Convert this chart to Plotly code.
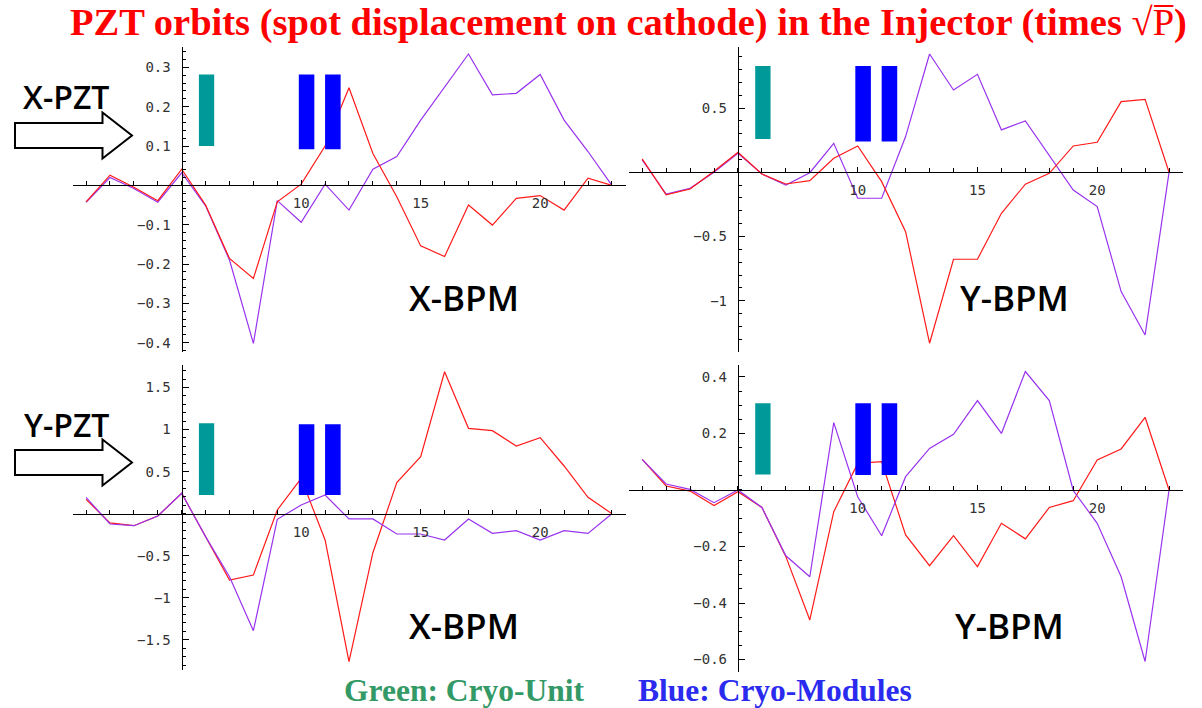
import plotly.graph_objects as go

# ---------------- data ----------------
bpm = list(range(1, 24))

tl_red = [-0.042, 0.026, -0.005, -0.039, 0.041, -0.05, -0.186, -0.237, -0.042, 0.003, 0.1, 0.248,
          0.081, -0.029, -0.154, -0.181, -0.05, -0.101, -0.033, -0.026, -0.063, 0.018, 0.0]
tl_purple = [-0.043, 0.02, -0.008, -0.043, 0.032, -0.052, -0.19, -0.402, -0.039, -0.094, 0.003, -0.063,
             0.041, 0.073, 0.166, 0.25, 0.334, 0.23, 0.234, 0.282, 0.166, 0.086, 0.0]

tr_red = [0.104, -0.176, -0.13, 0.008, 0.156, -0.013, -0.091, -0.065, 0.109, 0.205, -0.073, -0.462,
          -1.331, -0.677, -0.677, -0.319, -0.093, -0.008, 0.205, 0.234, 0.55, 0.568, 0.0]
tr_purple = [0.096, -0.169, -0.125, 0.0, 0.148, -0.013, -0.099, -0.003, 0.226, -0.202, -0.202, 0.278,
             0.921, 0.641, 0.763, 0.33, 0.4, 0.135, -0.138, -0.267, -0.929, -1.267, 0.0]

bl_red = [0.17, -0.11, -0.143, -0.028, 0.242, -0.273, -0.789, -0.729, 0.044, 0.42, -0.313, -1.76,
          -0.464, 0.369, 0.678, 1.688, 1.015, 0.987, 0.805, 0.904, 0.567, 0.194, 0.0]
bl_purple = [0.194, -0.123, -0.143, -0.028, 0.242, -0.273, -0.749, -1.391, -0.067, 0.103, 0.222, -0.063,
             -0.063, -0.242, -0.242, -0.313, -0.063, -0.234, -0.202, -0.313, -0.202, -0.234, 0.0]

br_red = [0.108, 0.014, -0.004, -0.055, -0.006, -0.062, -0.236, -0.46, -0.077, 0.094, 0.1, -0.159,
          -0.268, -0.162, -0.271, -0.118, -0.173, -0.062, -0.038, 0.106, 0.145, 0.257, 0.0]
br_purple = [0.108, 0.021, 0.002, -0.045, 0.0, -0.062, -0.233, -0.307, 0.238, -0.024, -0.162, 0.047,
             0.147, 0.197, 0.316, 0.2, 0.419, 0.316, -0.002, -0.118, -0.307, -0.607, 0.0]

# cryo elements along the beamline (BPM index units)
cryo_unit_span = [5.72, 6.36]
cryo_module_spans = [[9.9, 10.55], [11.0, 11.65]]

# y-extent of the marker bars in each panel
tl_unit_bar, tl_module_bar = [0.10, 0.282], [0.092, 0.282]
tr_unit_bar, tr_module_bar = [0.26, 0.828], [0.24, 0.828]
bl_unit_bar, bl_module_bar = [0.222, 1.074], [0.222, 1.062]
br_unit_bar, br_module_bar = [0.055, 0.307], [0.053, 0.307]

tl_yticks = [-0.4, -0.3, -0.2, -0.1, 0.1, 0.2, 0.3]
tr_yticks = [-1, -0.5, 0.5]
bl_yticks = [-1.5, -1, -0.5, 0.5, 1, 1.5]
br_yticks = [-0.6, -0.4, -0.2, 0.2, 0.4]
x_ticks = [10, 15, 20]

panel_labels = ["X-BPM", "Y-BPM", "X-BPM", "Y-BPM"]
pzt_labels = ["X-PZT", "Y-PZT"]

# ---------------- layout geometry ----------------
W, H = 1202, 708
RED = "#ff1a1a"
PURPLE = "#9933ee"
TEAL = "#009999"
BLUE = "#0000ff"


def fx(p):
    return p / W


def fy(p):
    return 1 - p / H


panels = [
    dict(red=tl_red, purple=tl_purple, xpx=(72.7, 626), ypx=(351.7, 47.3), xr=(0.44, 23.59),
         yr=(-0.423, 0.351), yt=tl_yticks, ydt=0.02, ub=tl_unit_bar, mb=tl_module_bar, red_top=True),
    dict(red=tr_red, purple=tr_purple, xpx=(629, 1182.7), ypx=(351.7, 46.7), xr=(0.45, 23.57),
         yr=(-1.397, 0.978), yt=tr_yticks, ydt=0.1, ub=tr_unit_bar, mb=tr_module_bar, red_top=True),
    dict(red=bl_red, purple=bl_purple, xpx=(72.7, 626), ypx=(670, 365), xr=(0.44, 23.59),
         yr=(-1.859, 1.768), yt=bl_yticks, ydt=0.1, ub=bl_unit_bar, mb=bl_module_bar, red_top=False),
    dict(red=br_red, purple=br_purple, xpx=(629, 1182.7), ypx=(671.7, 365), xr=(0.45, 23.57),
         yr=(-0.643, 0.442), yt=br_yticks, ydt=0.05, ub=br_unit_bar, mb=br_module_bar, red_top=False),
]

fig = go.Figure()
shapes = []
tickfont = dict(family="DejaVu Sans Mono", size=14, color="#333333")

for i, p in enumerate(panels):
    sfx = "" if i == 0 else str(i + 1)
    xref, yref = "x" + sfx, "y" + sfx
    order = [("purple", PURPLE), ("red", RED)] if p["red_top"] else [("red", RED), ("purple", PURPLE)]
    for key, col in order:
        fig.add_trace(go.Scatter(x=bpm, y=p[key], mode="lines", line=dict(color=col, width=1.2),
                                 xaxis=xref, yaxis=yref, showlegend=False, hoverinfo="skip"))
    xd = [fx(p["xpx"][0]), fx(p["xpx"][1])]
    yd = [fy(p["ypx"][0]), fy(p["ypx"][1])]
    x0, x1 = p["xr"]
    y0, y1 = p["yr"]
    ypos_axis = xd[0] + (5 - x0) / (x1 - x0) * (xd[1] - xd[0])
    xpos_axis = yd[0] + (0 - y0) / (y1 - y0) * (yd[1] - yd[0])
    fig.layout["xaxis" + sfx] = dict(
        domain=xd, range=[x0, x1], anchor="free", position=xpos_axis, side="bottom",
        showline=True, linecolor="black", linewidth=1.3, showgrid=False, zeroline=False,
        tickmode="array", tickvals=x_ticks, ticks="inside", ticklen=5, tickcolor="black", tickwidth=1,
        minor=dict(tickmode="linear", tick0=0, dtick=1, ticks="inside", ticklen=4, tickcolor="black"),
        tickfont=tickfont, ticklabelstandoff=5, fixedrange=True,
    )
    fig.layout["yaxis" + sfx] = dict(
        domain=yd, range=[y0, y1], anchor="free", position=ypos_axis, side="left",
        showline=True, linecolor="black", linewidth=1.3, showgrid=False, zeroline=False,
        tickmode="array", tickvals=p["yt"], ticks="inside", ticklen=6, tickcolor="black", tickwidth=1,
        minor=dict(tickmode="linear", tick0=0, dtick=p["ydt"], ticks="inside", ticklen=3, tickcolor="black"),
        tickfont=tickfont, ticklabelstandoff=8, fixedrange=True,
    )
    # cryo markers
    shapes.append(dict(type="rect", xref=xref, yref=yref, x0=cryo_unit_span[0], x1=cryo_unit_span[1],
                       y0=p["ub"][0], y1=p["ub"][1], fillcolor=TEAL, line=dict(width=0), layer="above"))
    for span in cryo_module_spans:
        shapes.append(dict(type="rect", xref=xref, yref=yref, x0=span[0], x1=span[1],
                           y0=p["mb"][0], y1=p["mb"][1], fillcolor=BLUE, line=dict(width=0), layer="above"))


def arrow_path(xl, xb, xt, cy, body_h, head_h):
    pts = [(xl, cy - body_h / 2), (xb, cy - body_h / 2), (xb, cy - head_h / 2), (xt, cy),
           (xb, cy + head_h / 2), (xb, cy + body_h / 2), (xl, cy + body_h / 2)]
    return "M " + " L ".join(f"{fx(a):.5f},{fy(b):.5f}" for a, b in pts) + " Z"


for cy in (135.5, 462.5):
    shapes.append(dict(type="path", xref="paper", yref="paper", path=arrow_path(15, 102.5, 132, cy, 25, 46),
                       fillcolor="white", line=dict(color="black", width=2), layer="above"))

lab_font = dict(family="Open Sans", size=35, color="black", weight=600)
pzt_font = dict(family="Open Sans", size=32, color="black", weight=600)
annotations = [
    dict(x=fx(628), y=fy(23), xref="paper", yref="paper", showarrow=False,
         text="<b>PZT orbits (spot displacement on cathode) in the Injector (times </b>√P̅<b>)</b>",
         font=dict(family="Liberation Serif", size=38.5, color="#ff0000"), xanchor="center", yanchor="middle"),
    dict(x=fx(66), y=fy(97), xref="paper", yref="paper", showarrow=False, text=pzt_labels[0],
         font=pzt_font, xanchor="center", yanchor="middle"),
    dict(x=fx(66), y=fy(424), xref="paper", yref="paper", showarrow=False, text=pzt_labels[1],
         font=pzt_font, xanchor="center", yanchor="middle"),
    dict(x=fx(464), y=fy(297), xref="paper", yref="paper", showarrow=False, text=panel_labels[0],
         font=lab_font, xanchor="center", yanchor="middle"),
    dict(x=fx(1014), y=fy(297), xref="paper", yref="paper", showarrow=False, text=panel_labels[1],
         font=lab_font, xanchor="center", yanchor="middle"),
    dict(x=fx(464), y=fy(625), xref="paper", yref="paper", showarrow=False, text=panel_labels[2],
         font=lab_font, xanchor="center", yanchor="middle"),
    dict(x=fx(1009), y=fy(625), xref="paper", yref="paper", showarrow=False, text=panel_labels[3],
         font=lab_font, xanchor="center", yanchor="middle"),
    dict(x=fx(464), y=fy(690), xref="paper", yref="paper", showarrow=False, text="<b>Green: Cryo-Unit</b>",
         font=dict(family="Liberation Serif", size=31.5, color="#339966"), xanchor="center", yanchor="middle"),
    dict(x=fx(775), y=fy(690), xref="paper", yref="paper", showarrow=False, text="<b>Blue: Cryo-Modules</b>",
         font=dict(family="Liberation Serif", size=31.5, color="#2b2bf0"), xanchor="center", yanchor="middle"),
]

fig.update_layout(width=W, height=H, margin=dict(l=0, r=0, t=0, b=0), paper_bgcolor="white",
                  plot_bgcolor="rgba(0,0,0,0)", shapes=shapes, annotations=annotations, showlegend=False)

fig.write_html("out.html")
